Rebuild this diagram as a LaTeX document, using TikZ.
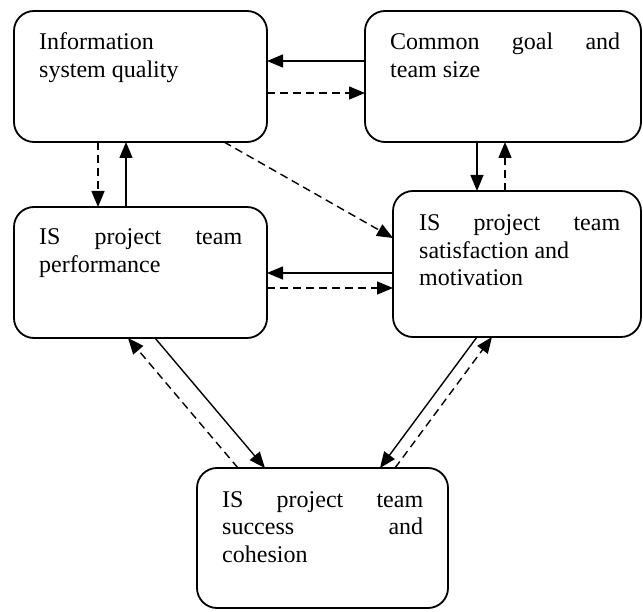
\documentclass[tikz,border=0pt]{standalone}
\usepackage{fontspec}
\setmainfont{Liberation Serif}
\usetikzlibrary{arrows.meta}
\tolerance=10000
\hbadness=10000
\tikzset{
  box/.style={draw, line width=1.8pt, rounded corners=20pt, inner sep=0pt, outer sep=0pt},
  label text/.style={anchor=base west, inner sep=0pt, align=justify,
    font=\fontsize{24}{27.5}\selectfont},
  link/.style={line width=1.4pt, -{Triangle[length=16pt,width=13pt]}},
  plain link/.style={link},
  dash link/.style={link, dash pattern=on 8pt off 5pt},
}
\begin{document}
\begin{tikzpicture}[x=1pt, y=-1pt]
\useasboundingbox (0,0) rectangle (643,612);

% boxes
\node[box, minimum width=253pt, minimum height=131pt] (isq)  at (140.5,76.5) {};
\node[box, minimum width=276pt, minimum height=131pt] (cg)   at (503,76.5)   {};
\node[box, minimum width=253pt, minimum height=131pt] (perf) at (140.5,272.5) {};
\node[box, minimum width=248pt, minimum height=146pt] (sat)  at (517,264)    {};
\node[box, minimum width=251pt, minimum height=140pt] (succ) at (322.5,538)  {};

% box texts
\node[label text, text width=203pt] (isqtext)  at (39,50)   {Information\\ system quality};
\node[label text, text width=230pt] (cgtext)   at (390,50)  {Common goal and\linebreak team size};
\node[label text, text width=203pt] (perftext) at (39,245)  {IS project team\linebreak performance};
\node[label text, text width=201pt] (sattext)  at (419,231) {IS project team\linebreak satisfaction and\\ motivation};
\node[label text, text width=201pt] (succtext) at (222,507) {IS project team\linebreak success and\linebreak cohesion};

% top row
\draw[plain link] (cg.west |- 0,61) -- (isq.east |- 0,61);
\draw[dash link]  (isq.east |- 0,93) -- (cg.west |- 0,93);

% left column
\draw[dash link]  (98,0 |- isq.south) -- (98,0 |- perf.north);
\draw[plain link] (126,0 |- perf.north) -- (126,0 |- isq.south);

% right column
\draw[plain link] (477,0 |- cg.south) -- (477,0 |- sat.north);
\draw[dash link]  (505,0 |- sat.north) -- (505,0 |- cg.south);

% diagonal from quality to satisfaction
\draw[dash link]  (224,0 |- isq.south) -- (sat.west |- 0,238);

% middle row
\draw[plain link] (sat.west |- 0,273) -- (perf.east |- 0,273);
\draw[dash link]  (perf.east |- 0,288) -- (sat.west |- 0,288);

% performance <-> success
\draw[plain link] (155,0 |- perf.south) -- (265,0 |- succ.north);
\draw[dash link]  (238,0 |- succ.north) -- (128,0 |- perf.south);

% satisfaction <-> success
\draw[plain link] (477,0 |- sat.south) -- (380,0 |- succ.north);
\draw[dash link]  (395,0 |- succ.north) -- (492,0 |- sat.south);
\end{tikzpicture}
\end{document}
